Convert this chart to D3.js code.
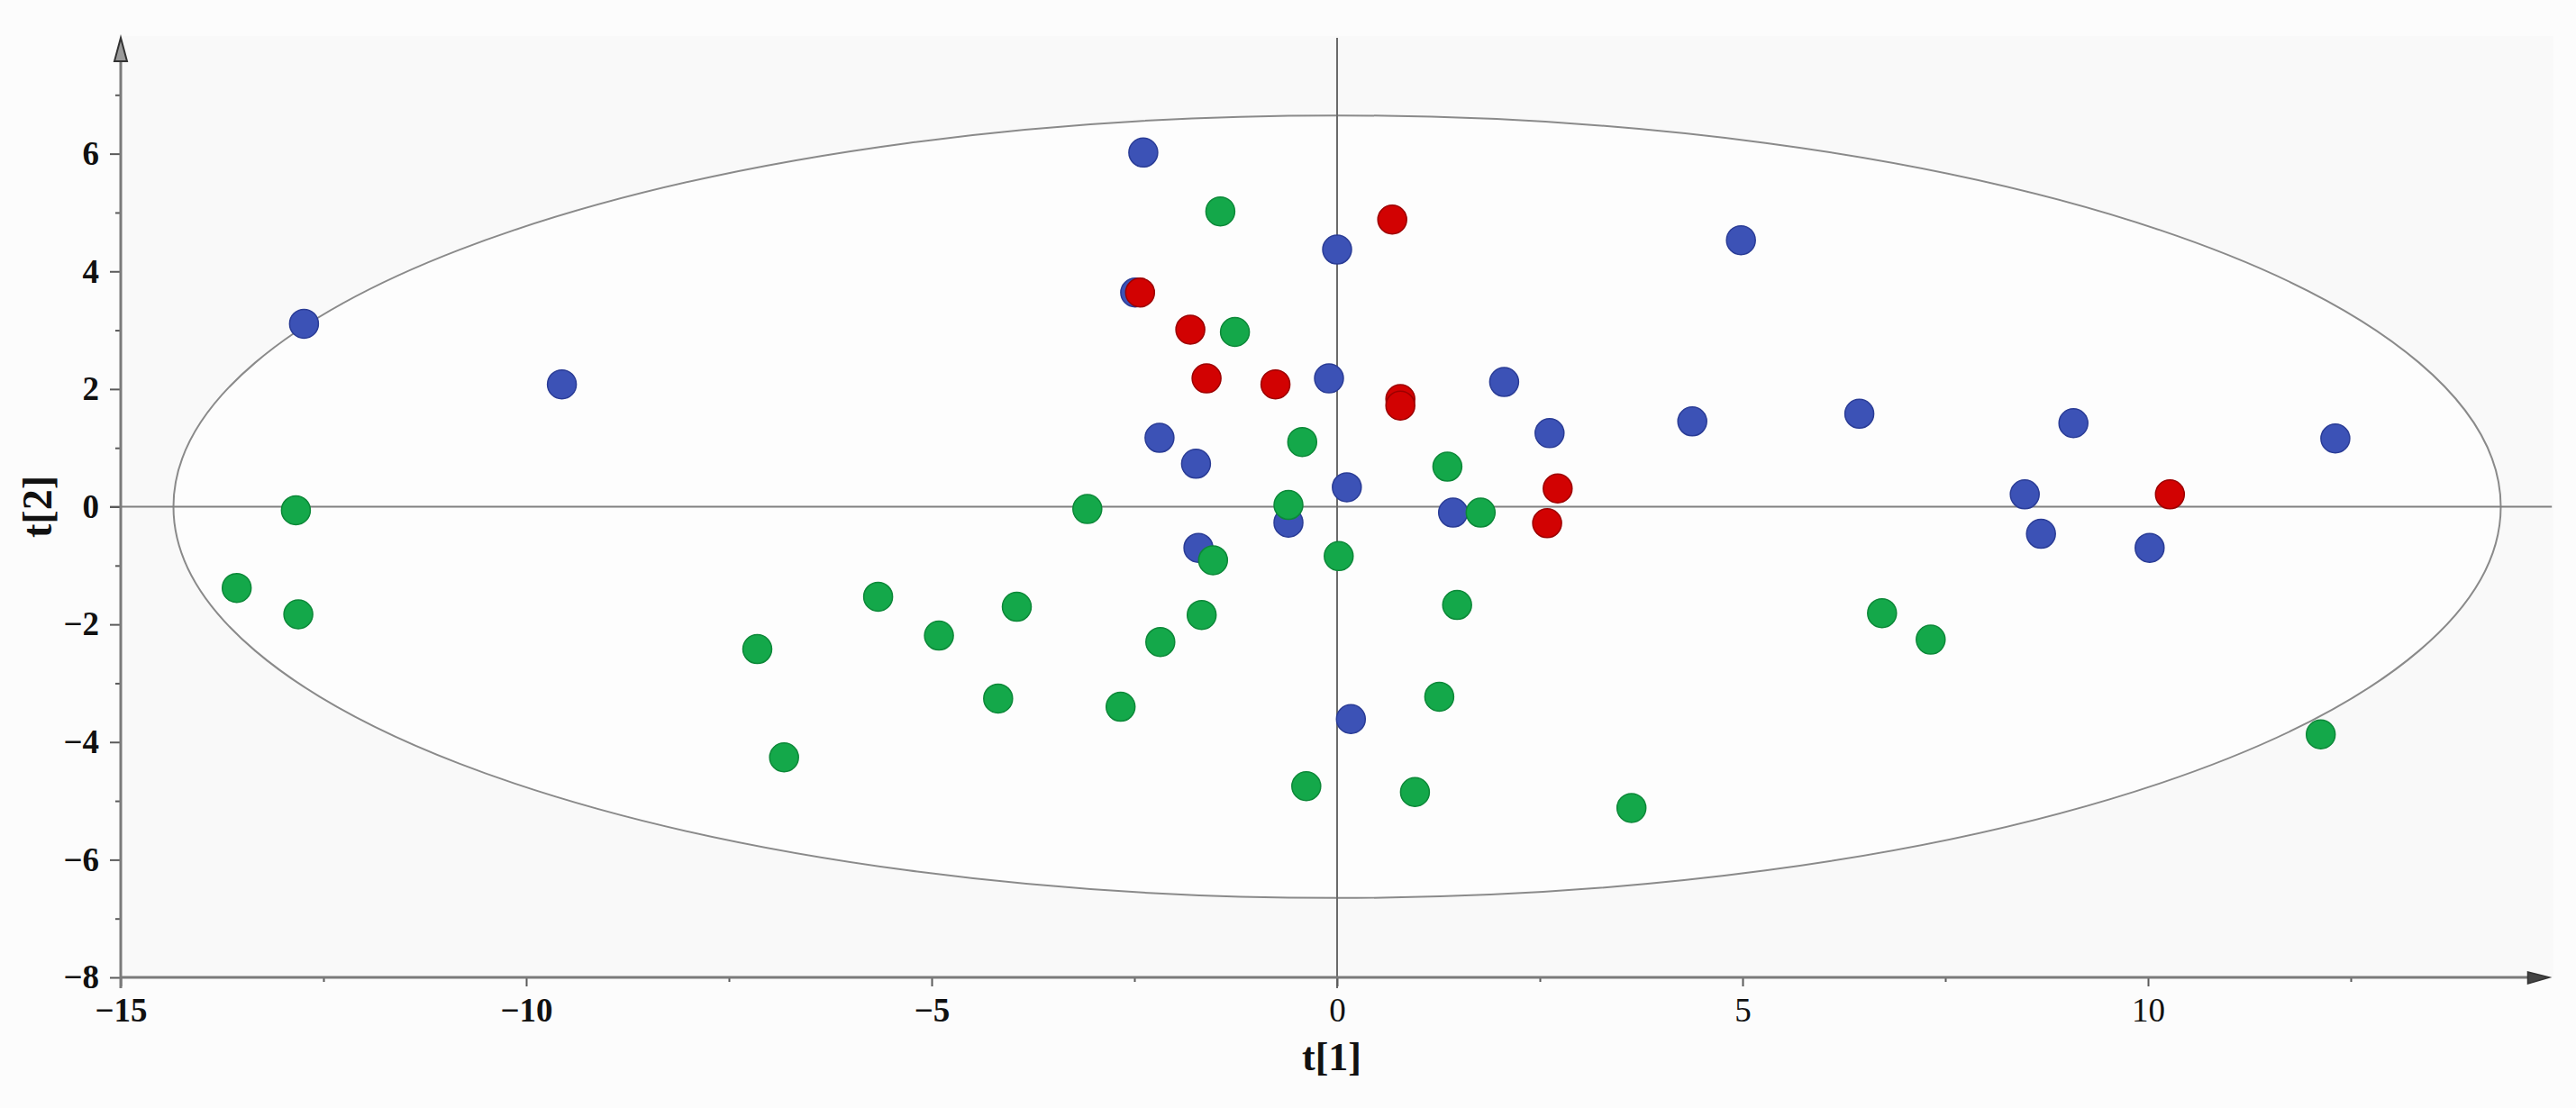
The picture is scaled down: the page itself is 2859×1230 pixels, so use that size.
<!DOCTYPE html>
<html>
<head>
<meta charset="utf-8">
<script src="https://cdn.jsdelivr.net/npm/d3@7"></script>
<style>
  body { margin: 0; background: #fcfcfc; }
  svg { display: block; }
</style>
</head>
<body>
<svg id="scoreplot" width="2859" height="1230"></svg>
<script>
// t[1], t[2] scores per group
var blueScores = [
  [-2.39, 6.02], [-12.74, 3.11], [-9.56, 2.08], [-2.49, 3.64], [0.0, 4.37],
  [4.98, 4.53], [-0.10, 2.18], [2.06, 2.12], [-2.19, 1.17], [-1.74, 0.73],
  [2.62, 1.25], [4.38, 1.45], [6.44, 1.58], [9.08, 1.42], [12.31, 1.16],
  [0.12, 0.33], [8.48, 0.21], [8.68, -0.46], [10.02, -0.70], [1.43, -0.10],
  [-0.60, -0.27], [-1.71, -0.70], [0.17, -3.61]
];
var greenScores = [
  [-1.44, 5.02], [-1.26, 2.97], [-0.43, 1.10], [1.36, 0.68], [-0.60, 0.03],
  [-3.08, -0.04], [-12.84, -0.06], [1.77, -0.10], [0.02, -0.84], [-1.53, -0.91],
  [-13.57, -1.38], [-12.81, -1.83], [-5.66, -1.53], [-4.91, -2.19], [-3.95, -1.70],
  [-7.15, -2.42], [-2.18, -2.30], [-1.67, -1.84], [1.48, -1.67], [6.72, -1.81],
  [7.32, -2.26], [-4.18, -3.26], [-2.67, -3.40], [1.26, -3.23], [-6.82, -4.26],
  [-0.38, -4.75], [0.96, -4.85], [3.63, -5.12], [12.13, -3.87]
];
var redScores = [
  [-2.43, 3.64], [0.68, 4.88], [-1.81, 3.01], [-1.61, 2.18], [-0.76, 2.08],
  [0.78, 1.83], [0.78, 1.72], [2.72, 0.31], [2.59, -0.28], [10.27, 0.21]
];

var xTicks = [-15, -10, -5, 0, 5, 10];
var xMinorTicks = [-12.5, -7.5, -2.5, 2.5, 7.5, 12.5];
var yTicks = [-8, -6, -4, -2, 0, 2, 4, 6];
var yMinorTicks = [-7, -5, -3, -1, 1, 3, 5, 7];

// Hotelling T2 ellipse half axes
var ellipseT1 = 14.35;
var ellipseT2 = 6.65;

var serif = "'Liberation Serif', 'Times New Roman', serif";

var xScale = d3.scaleLinear()
  .domain([-15, 15])
  .range([134, 2834]);

var yScale = d3.scaleLinear()
  .domain([-8, 8])
  .range([1085, 40]);

var svg = d3.select("#scoreplot");

// plot background
svg.append("rect")
  .attr("x", xScale(-15))
  .attr("y", yScale(8))
  .attr("width", xScale(15) - xScale(-15))
  .attr("height", yScale(-8) - yScale(8))
  .attr("fill", "#f9f9f9");

var drawGuides = function() {
  var g = svg.append("g").attr("class", "guides");
  g.append("ellipse")
    .attr("cx", xScale(0))
    .attr("cy", yScale(0))
    .attr("rx", xScale(ellipseT1) - xScale(0))
    .attr("ry", yScale(0) - yScale(ellipseT2))
    .attr("fill", "#fdfdfd")
    .attr("stroke", "#8a8a8a")
    .attr("stroke-width", 2);
  g.append("line")
    .attr("x1", xScale(-15) - 12).attr("x2", xScale(14.98))
    .attr("y1", yScale(0)).attr("y2", yScale(0))
    .attr("stroke", "#808080")
    .attr("stroke-width", 2);
  g.append("line")
    .attr("x1", xScale(0)).attr("x2", xScale(0))
    .attr("y1", yScale(7.97)).attr("y2", yScale(-8) + 12)
    .attr("stroke", "#6a6a6a")
    .attr("stroke-width", 2);
};

var drawAxes = function() {
  var axes = svg.append("g").attr("class", "axes");

  var xAxis = d3.axisBottom(xScale).tickValues(xTicks).tickSize(10).tickPadding(13)
    .tickFormat(d3.format("d"));
  var xMinor = d3.axisBottom(xScale).tickValues(xMinorTicks).tickSize(5).tickFormat("");
  var yAxis = d3.axisLeft(yScale).tickValues(yTicks).tickSize(12).tickPadding(12)
    .tickFormat(d3.format("d"));
  var yMinor = d3.axisLeft(yScale).tickValues(yMinorTicks).tickSize(6).tickFormat("");

  var gx = axes.append("g").attr("transform", "translate(0," + yScale(-8) + ")").call(xAxis);
  var gxm = axes.append("g").attr("transform", "translate(0," + yScale(-8) + ")").call(xMinor);
  var gy = axes.append("g").attr("transform", "translate(" + xScale(-15) + ",0)").call(yAxis);
  var gym = axes.append("g").attr("transform", "translate(" + xScale(-15) + ",0)").call(yMinor);

  [gx, gxm, gy, gym].forEach(function(a) {
    a.select(".domain").remove();
    a.selectAll(".tick line").attr("stroke", "#5a5a5a").attr("stroke-width", 2);
    a.selectAll(".tick text")
      .attr("fill", "#111")
      .style("font-family", serif)
      .style("font-size", "37px");
  });
  gy.selectAll(".tick text").style("font-weight", "bold");
  gx.selectAll(".tick text").style("font-weight", function(d) { return d < 0 ? "bold" : "normal"; });

  // axis lines with arrow heads
  axes.append("line")
    .attr("x1", xScale(-15)).attr("x2", xScale(14.75))
    .attr("y1", yScale(-8)).attr("y2", yScale(-8))
    .attr("stroke", "#7a7a7a").attr("stroke-width", 3);
  axes.append("line")
    .attr("x1", xScale(-15)).attr("x2", xScale(-15))
    .attr("y1", yScale(-8) + 12).attr("y2", yScale(7.6))
    .attr("stroke", "#7a7a7a").attr("stroke-width", 3);

  var xe = xScale(14.95), ye = yScale(-8);
  axes.append("path")
    .attr("d", "M" + xe + "," + ye + "L" + (xe - 24) + "," + (ye - 6) + "L" + (xe - 24) + "," + (ye + 7) + "Z")
    .attr("fill", "#444").attr("stroke", "#333").attr("stroke-width", 1.5);
  var xt = xScale(-15), yt = yScale(7.97);
  axes.append("path")
    .attr("d", "M" + xt + "," + yt + "L" + (xt - 7) + "," + (yt + 26) + "L" + (xt + 7) + "," + (yt + 26) + "Z")
    .attr("fill", "#9a9a9a").attr("stroke", "#333").attr("stroke-width", 2);
};

var drawLabels = function() {
  var labels = svg.append("g").attr("class", "labels");
  labels.append("text")
    .text("t[1]")
    .attr("x", xScale(0) - 6)
    .attr("y", 1188)
    .attr("text-anchor", "middle")
    .style("font-family", serif)
    .style("font-weight", "bold")
    .style("font-size", "44px")
    .attr("fill", "#111");
  labels.append("text")
    .text("t[2]")
    .attr("transform", "translate(57," + yScale(0) + ") rotate(-90)")
    .attr("text-anchor", "middle")
    .style("font-family", serif)
    .style("font-weight", "bold")
    .style("font-size", "46px")
    .attr("fill", "#111");
};

var drawPoints = function(data, fill, stroke) {
  svg.append("g")
    .selectAll("circle")
    .data(data)
    .enter()
    .append("circle")
    .attr("cx", function(d) { return xScale(d[0]); })
    .attr("cy", function(d) { return yScale(d[1]); })
    .attr("r", 16)
    .attr("fill", fill)
    .attr("stroke", stroke)
    .attr("stroke-width", 1.5);
};

drawGuides();
drawAxes();
drawLabels();
drawPoints(blueScores, "#3c52b6", "#2a3c96");
drawPoints(greenScores, "#14a84a", "#0c8838");
drawPoints(redScores, "#d20202", "#9c0000");
</script>
</body>
</html>
